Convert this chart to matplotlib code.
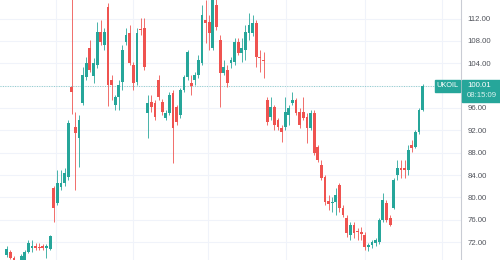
import matplotlib
matplotlib.use('Agg')
import matplotlib.pyplot as plt
import numpy as np
from matplotlib.patches import Rectangle

# daily UKOIL candles (open, high, low, close)
opens = [69.7, 70.2, 69.2, 68.0, 68.4, 68.8, 70.2, 70.9, 71.3, 71.2, 71.2, 70.9, 70.8,
         81.7, 79.0, 81.9, 82.6, 83.6, 99.7, 92.6, 90.6, 96.9, 101.5, 106.7, 101.7,
         103.7, 109.6, 107.3, 114.1, 101.0, 96.5, 97.9, 100.6, 107.8, 109.4, 103.7,
         100.6, 110.1, 110.3, 95.1, 97.1, 96.9, 101.0, 97.1, 94.2, 95.1, 98.7, 96.2,
         94.7, 99.2, 101.5, 100.5, 101.0, 101.9, 104.0, 111.7, 111.4, 106.7, 114.4,
         108.2, 102.2, 102.8, 104.0, 104.2, 107.8, 105.8, 106.4, 109.4, 109.4, 111.2,
         105.1, 104.6, 97.4, 94.4, 96.2, 93.8, 92.4, 92.6, 94.7, 96.9, 97.4, 95.3,
         95.3, 94.4, 92.4, 95.1, 89.0, 85.8, 83.6, 79.3, 79.0, 79.2, 82.2, 78.1,
         76.3, 73.3, 75.1, 74.0, 73.6, 73.3, 71.1, 71.5, 71.8, 72.0, 75.9, 79.0,
         76.3, 78.1, 84.0, 85.2, 85.2, 84.9, 89.4, 89.0, 91.7, 95.6]
highs = [71.3, 70.6, 69.5, 68.7, 69.8, 70.6, 72.4, 72.4, 71.9, 71.8, 71.6, 71.6, 73.3,
         82.0, 84.9, 84.9, 85.2, 93.8, 126.0, 95.3, 94.7, 103.3, 105.1, 108.2, 104.9,
         111.4, 111.7, 110.3, 114.8, 101.9, 98.3, 101.0, 107.3, 110.3, 110.8, 104.2,
         110.3, 112.1, 112.1, 98.3, 98.3, 97.4, 101.9, 97.6, 95.6, 98.8, 99.2, 96.5,
         99.6, 101.9, 106.4, 101.9, 102.4, 105.5, 114.4, 115.3, 112.6, 115.8, 115.5,
         109.1, 104.6, 103.7, 105.1, 108.5, 108.5, 108.5, 110.8, 113.0, 112.6, 111.7,
         106.4, 106.0, 97.9, 97.9, 96.5, 94.2, 92.9, 97.9, 96.5, 98.8, 97.8, 96.0,
         97.9, 95.1, 95.6, 95.6, 89.4, 86.7, 84.0, 80.4, 80.1, 81.7, 82.6, 78.6,
         76.8, 75.6, 75.6, 74.5, 74.7, 73.8, 71.8, 72.4, 72.7, 76.3, 80.8, 79.5,
         76.8, 83.5, 86.7, 86.7, 86.7, 89.4, 90.3, 92.1, 96.0, 100.3]
lows = [69.3, 68.9, 67.5, 67.6, 68.1, 68.5, 70.0, 70.2, 70.6, 70.6, 70.5, 69.2, 70.6,
        75.6, 78.6, 81.3, 82.0, 83.1, 95.0, 81.3, 85.4, 96.5, 101.0, 102.4, 100.5,
        103.1, 107.3, 106.4, 96.3, 97.4, 95.6, 95.6, 99.2, 107.3, 103.7, 99.2,
        100.1, 109.1, 102.8, 90.6, 95.3, 93.8, 97.4, 94.7, 93.8, 94.7, 86.2, 92.9,
        94.2, 98.8, 101.0, 98.3, 100.1, 101.4, 103.7, 107.6, 106.4, 106.4, 109.9,
        96.2, 101.9, 99.7, 103.1, 103.7, 105.5, 104.2, 104.6, 108.2, 108.9, 103.3,
        102.4, 101.4, 92.9, 93.8, 92.1, 92.1, 89.9, 92.1, 92.9, 96.5, 94.7, 92.4,
        93.8, 89.7, 92.1, 87.6, 86.3, 83.1, 78.6, 77.7, 77.4, 76.8, 77.4, 76.5,
        72.9, 72.4, 72.7, 72.4, 72.4, 70.6, 70.4, 70.9, 71.3, 71.7, 75.6, 75.6,
        74.9, 77.9, 83.1, 83.5, 83.5, 84.0, 88.1, 88.8, 91.3, 95.4]
closes = [70.8, 69.2, 68.0, 68.5, 69.5, 70.2, 71.8, 71.3, 70.9, 70.9, 71.0, 71.3, 73.1,
          78.1, 82.6, 82.6, 84.3, 93.3, 98.8, 91.5, 93.8, 101.9, 104.0, 102.8, 104.0,
          109.6, 107.8, 109.6, 100.1, 100.1, 97.9, 100.1, 106.4, 109.1, 104.0, 100.5,
          109.4, 109.9, 103.3, 96.9, 96.2, 94.4, 97.9, 95.3, 95.1, 98.3, 92.4, 93.5,
          99.2, 101.5, 106.0, 99.9, 101.9, 104.6, 112.6, 111.2, 109.4, 115.3, 110.5,
          102.2, 103.3, 100.5, 104.6, 107.8, 105.8, 106.7, 109.6, 110.8, 111.2, 105.1,
          104.9, 104.4, 93.5, 96.2, 92.9, 92.6, 91.7, 95.3, 96.0, 97.4, 95.1, 92.9,
          94.2, 92.4, 95.1, 87.9, 86.7, 83.5, 79.2, 78.8, 79.2, 80.4, 78.1, 76.8,
          73.6, 75.1, 73.6, 73.8, 73.5, 71.1, 71.5, 72.0, 72.4, 75.9, 79.5, 75.9,
          75.1, 83.1, 85.2, 84.9, 84.9, 88.5, 88.8, 91.7, 95.6, 100.01]

price_ticks = [72, 76, 80, 84, 88, 92, 96, 100, 104, 108, 112]
month_breaks = [13.6, 35.0, 55.7, 77.1, 99.1, 120.3]
symbol = 'UKOIL'
last_price = closes[-1]
countdown = '08:15:09'

up = '#26a69a'
down = '#ef5350'

fig = plt.figure(figsize=(5, 2.6), dpi=100)
ax = fig.add_axes([0, 0, 461 / 500, 1])

o = np.array(opens)
c = np.array(closes)
h = np.array(highs)
l = np.array(lows)
x = np.arange(len(o))
cols = np.where(c >= o, up, down)

ax.vlines(x, l, h, colors=cols, linewidth=0.7, alpha=0.85, zorder=3)
bottom = np.minimum(o, c)
height = np.maximum(np.abs(c - o), 0.25)
ax.bar(x, height, bottom=bottom, width=0.78, color=cols, linewidth=0, zorder=4)

for p in price_ticks:
    ax.axhline(p, color='#f0f3fa', linewidth=0.8, zorder=0)
for m in month_breaks:
    ax.axvline(m, color='#f0f3fa', linewidth=0.8, zorder=0)

ax.axhline(last_price, color=up, linewidth=0.7, linestyle=(0, (1, 1.5)), alpha=0.5, zorder=2)

ax.set_xlim(-1.852, 125.6)
ax.set_ylim(68.8, 115.31)
ax.set_xticks([])
ax.yaxis.tick_right()
ax.set_yticks(price_ticks)
ax.set_yticklabels(['' if p == 100 else '{:.2f}'.format(p) for p in price_ticks],
                   fontsize=5.6, color='#50535b', family='Liberation Sans')
ax.tick_params(axis='y', length=0, pad=4.5)
for s in ['top', 'left', 'bottom']:
    ax.spines[s].set_visible(False)
ax.spines['right'].set_color('#c9ccd4')
ax.spines['right'].set_linewidth(0.8)

# last price labels
W, H = 500, 260
fig.add_artist(Rectangle((435 / W, 1 - 91.5 / H), 25 / W, 11.5 / H,
                         transform=fig.transFigure, color=up, zorder=5))
fig.add_artist(Rectangle((461.5 / W, 1 - 101.5 / H), 38.5 / W, 21.5 / H,
                         transform=fig.transFigure, color=up, zorder=5))
fig.text(447.5 / W, 1 - 85.8 / H, symbol, ha='center', va='center', color='white',
         fontsize=5.3, family='Liberation Sans', zorder=6)
fig.text(467 / W, 1 - 85.5 / H, '{:.2f}'.format(last_price), ha='left', va='center',
         color='white', fontsize=5.6, family='Liberation Sans', zorder=6)
fig.text(467 / W, 1 - 95.8 / H, countdown, ha='left', va='center', color='#d9f2ef',
         fontsize=5.6, family='Liberation Sans', zorder=6)

fig.savefig('out.png', dpi=100)
